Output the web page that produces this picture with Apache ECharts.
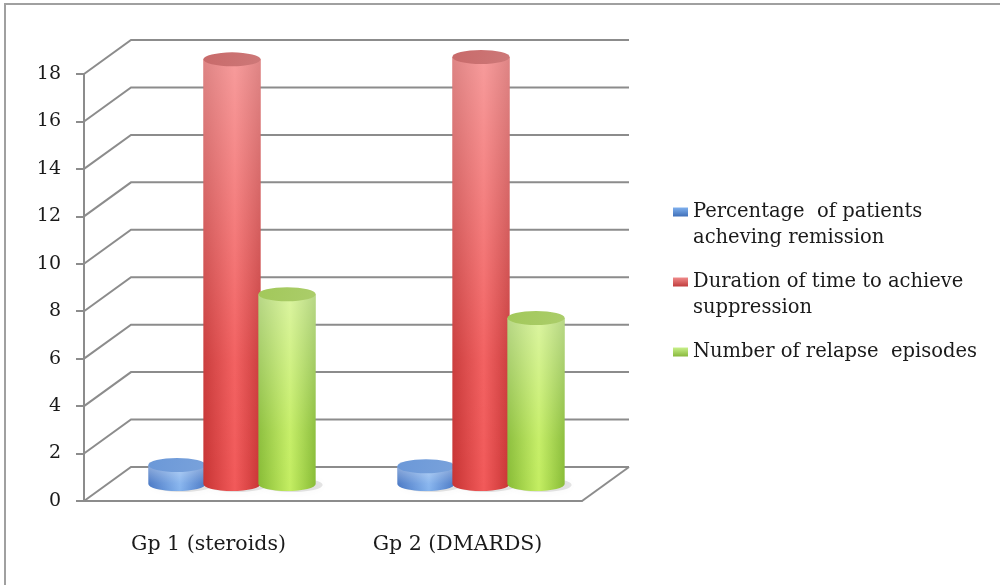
<!DOCTYPE html>
<html>
<head>
<meta charset="utf-8">
<script src="https://cdn.jsdelivr.net/npm/echarts@6/dist/echarts.min.js"></script>
<style>
html, body { margin: 0; padding: 0; background: #fff; }
#chart { width: 1000px; height: 585px; }
</style>
</head>
<body>
<div id="chart"></div>
<script>
// data
var groups = ['Gp 1 (steroids)', 'Gp 2 (DMARDS)'];
var seriesNames = [
    'Percentage  of patients acheving remission',
    'Duration of time to achieve suppression',
    'Number of relapse  episodes'
];
var legendLines = [
    ['Percentage  of patients', 'acheving remission'],
    ['Duration of time to achieve', 'suppression'],
    ['Number of relapse  episodes']
];
var remission = [0.8, 0.75];
var suppression = [17.9, 18.0];
var relapse = [8.0, 7.0];
var yTicks = [0, 2, 4, 6, 8, 10, 12, 14, 16, 18];

// 3d look
var DX = 47, DY = -34;
var GRID = '#8c8c8c';
var FONT = 'DejaVu Serif';

var palettes = [
    { edge: '#4676c4', mid: '#86b4ee', top: '#6b98d8', legend: ['#7fb0ee', '#3f6fb8'] },
    { edge: '#c83434', mid: '#f25a5a', top: '#c86a6a', legend: ['#f08a8a', '#c03c3c'] },
    { edge: '#88bc36', mid: '#c4ee62', top: '#a2c85a', legend: ['#c8f08a', '#88b83c'] }
];

function renderWall(params, api) {
    var cs = params.coordSys;
    var v = api.value(1);
    var y = api.coord([0, v])[1];
    var x0 = cs.x, x1 = cs.x + cs.width;
    var style = { stroke: GRID, lineWidth: 2, fill: null };
    var children = [{
        type: 'polyline',
        shape: { points: [[x0, y], [x0 + DX, y + DY], [x1 + DX, y + DY]] },
        style: style
    }];
    if (v === 0) {
        children.push({
            type: 'line',
            shape: { x1: x1, y1: y, x2: x1 + DX, y2: y + DY },
            style: style
        });
    }
    return { type: 'group', children: children };
}

function ellipsePath(cx, cy, rx, ry) {
    return 'M' + (cx - rx) + ' ' + cy +
        ' A' + rx + ' ' + ry + ' 0 0 1 ' + (cx + rx) + ' ' + cy +
        ' A' + rx + ' ' + ry + ' 0 0 1 ' + (cx - rx) + ' ' + cy + ' Z';
}

function cylinder(k) {
    var pal = palettes[k];
    return function (params, api) {
        var i = api.value(0), v = api.value(1);
        var top = api.coord([i, v]);
        var base = api.coord([i, 0]);
        var band = api.size([1, 0])[0];
        var cx = base[0] + DX / 2 + (k - 1) * band * 0.221;
        var yb = base[1] + DY / 2;
        var yt = top[1] + DY / 2;
        var rx = band * 0.115, ry = 7;
        var body = 'M' + (cx - rx) + ' ' + yt + ' L' + (cx - rx) + ' ' + yb +
            ' A' + rx + ' ' + ry + ' 0 0 0 ' + (cx + rx) + ' ' + yb +
            ' L' + (cx + rx) + ' ' + yt + ' Z';
        return {
            type: 'group',
            children: [{
                type: 'path',
                z2: 0,
                shape: { pathData: ellipsePath(cx + 5, yb + 1, rx + 2, ry) },
                style: { fill: 'rgba(0,0,0,0.1)', shadowBlur: 8, shadowColor: 'rgba(0,0,0,0.3)' }
            }, {
                type: 'path',
                z2: 10 + k * 3,
                shape: { pathData: body },
                style: {
                    fill: new echarts.graphic.LinearGradient(0, 0, 1, 0, [
                        { offset: 0, color: pal.edge },
                        { offset: 0.55, color: pal.mid },
                        { offset: 1, color: pal.edge }
                    ])
                }
            }, {
                type: 'path',
                z2: 11 + k * 3,
                shape: { pathData: body },
                style: {
                    fill: new echarts.graphic.LinearGradient(0, 0, 0, 1, [
                        { offset: 0, color: 'rgba(255,255,255,0.4)' },
                        { offset: 0.7, color: 'rgba(255,255,255,0.05)' },
                        { offset: 1, color: 'rgba(255,255,255,0)' }
                    ])
                }
            }, {
                type: 'path',
                z2: 12 + k * 3,
                shape: { pathData: ellipsePath(cx, yt, rx, ry) },
                style: {
                    fill: new echarts.graphic.LinearGradient(0, 0, 1, 1, [
                        { offset: 0, color: pal.top },
                        { offset: 1, color: echarts.color.lift(pal.top, 0.1) }
                    ])
                }
            }]
        };
    };
}

function seriesData(values) {
    return values.map(function (v, i) { return [i, v]; });
}

function legendFor(k, top) {
    var lines = legendLines[k];
    return {
        data: [seriesNames[k]],
        left: 673,
        top: top,
        padding: 0,
        itemWidth: 15,
        itemHeight: 9,
        itemGap: 5,
        selectedMode: false,
        icon: 'rect',
        formatter: function () {
            return lines.length > 1 ? '\n' + lines.join('\n') : lines[0];
        },
        textStyle: { fontFamily: FONT, fontSize: 19.5, lineHeight: 26, color: '#1a1a1a' }
    };
}

var valueSets = [remission, suppression, relapse];

var myChart = echarts.init(document.getElementById('chart'));

var option = {
    backgroundColor: '#fff',
    animation: false,
    graphic: [{
        type: 'polyline',
        shape: { points: [[5, 585], [5, 4], [1000, 4]] },
        style: { stroke: '#a0a0a0', lineWidth: 2, fill: null }
    }],
    grid: { left: 84, right: 418, top: 74, bottom: 84 },
    legend: [legendFor(0, 173), legendFor(1, 243), legendFor(2, 339)],
    xAxis: {
        type: 'category',
        data: groups,
        axisLine: { lineStyle: { color: GRID, width: 2 } },
        axisTick: { length: 10, lineStyle: { color: GRID, width: 2 } },
        axisLabel: { margin: 33, fontFamily: FONT, fontSize: 20.5, color: '#1a1a1a' }
    },
    yAxis: {
        type: 'value',
        min: 0,
        max: 18,
        interval: 2,
        axisLine: { show: true, lineStyle: { color: GRID, width: 2 } },
        axisTick: { show: true, length: 8, lineStyle: { color: GRID, width: 2 } },
        axisLabel: { margin: 23, fontFamily: FONT, fontSize: 19, color: '#1a1a1a' },
        splitLine: { show: false }
    },
    series: [{
        type: 'custom',
        name: 'walls',
        z: 1,
        silent: true,
        renderItem: renderWall,
        data: yTicks.map(function (v) { return [0, v]; }),
        encode: { x: 0, y: 1 }
    }].concat(valueSets.map(function (vals, k) {
        return {
            type: 'custom',
            name: seriesNames[k],
            z: 2,
            renderItem: cylinder(k),
            itemStyle: {
                color: new echarts.graphic.LinearGradient(0, 0, 0, 1, [
                    { offset: 0, color: palettes[k].legend[0] },
                    { offset: 1, color: palettes[k].legend[1] }
                ])
            },
            data: seriesData(vals),
            encode: { x: 0, y: 1 }
        };
    }))
};

myChart.setOption(option);
</script>
</body>
</html>
